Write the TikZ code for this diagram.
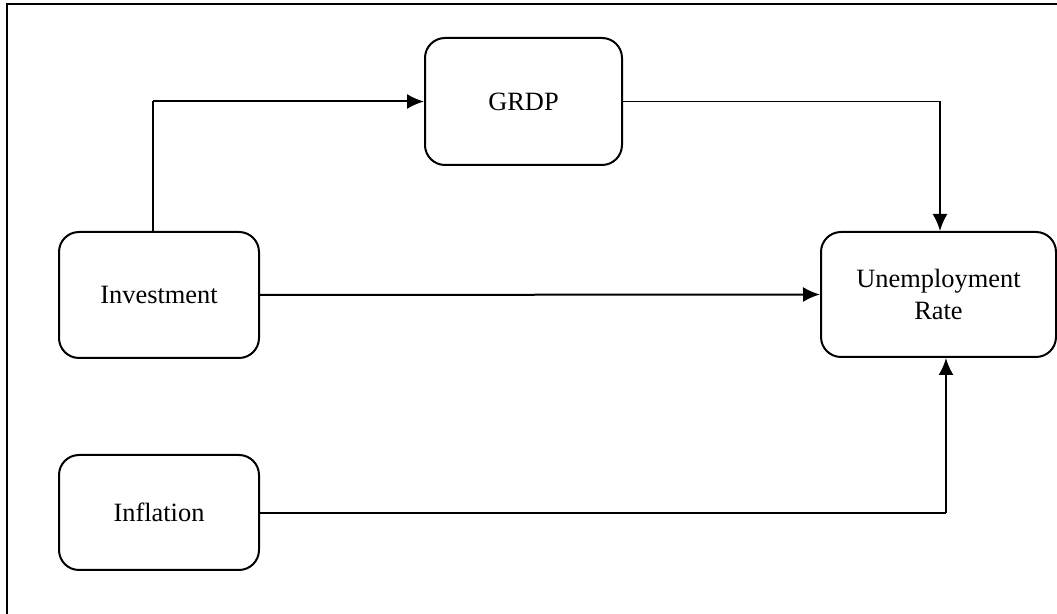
\documentclass[tikz,border=0pt]{standalone}
\usepackage{fontspec}
\setmainfont{Liberation Serif}
\usetikzlibrary{arrows.meta}
\tikzset{
	factor/.style={draw, line width=1pt, rounded corners=10pt, align=center,
		font=\fontsize{13.2}{16}\selectfont, inner sep=0pt},
	thinline/.style={line width=0.55pt},
	thickarrow/.style={line width=1pt, -{Latex[length=8.5pt,width=7.5pt]}}
}
\begin{document}
\begin{tikzpicture}[x=0.5pt, y=-0.5pt]
	% page: 1057 x 614 px, 1px = 0.5pt
	\useasboundingbox (0,0) rectangle (1057,614);
	\draw[line width=0.75pt] (1057,4) -- (7,4) -- (7,614);
	% factors
	\node[factor, minimum width=98.5pt, minimum height=63.5pt] (grdp) at (523.5,101.5) {GRDP};
	\node[factor, minimum width=100pt, minimum height=63pt] (invest) at (159,295) {Investment};
	\node[factor, minimum width=100pt, minimum height=57.5pt] (infl) at (159,512.5) {Inflation};
	\node[factor, minimum width=117.5pt, minimum height=62.5pt] (unemp) at (938.5,294.5) {Unemployment\\Rate};
	% bends
	\coordinate (c1) at (153,101.5);
	\coordinate (c2) at (940,101.5);
	\coordinate (c3) at (946,513);
	% Investment -> GRDP
	\draw[thinline] (invest.north -| c1) -- (c1);
	\draw[thickarrow] (c1) -- (grdp.west);
	% GRDP -> Unemployment Rate
	\draw[thinline] (grdp.east) -- (c2);
	\draw[thickarrow] (c2) -- (unemp.north -| c2);
	% Investment -> Unemployment Rate
	\draw[thickarrow] (invest.east) -- (unemp.west);
	% Inflation -> Unemployment Rate
	\draw[thinline] (infl.east |- c3) -- (c3);
	\draw[thickarrow] (c3) -- (unemp.south -| c3);
\end{tikzpicture}
\end{document}
